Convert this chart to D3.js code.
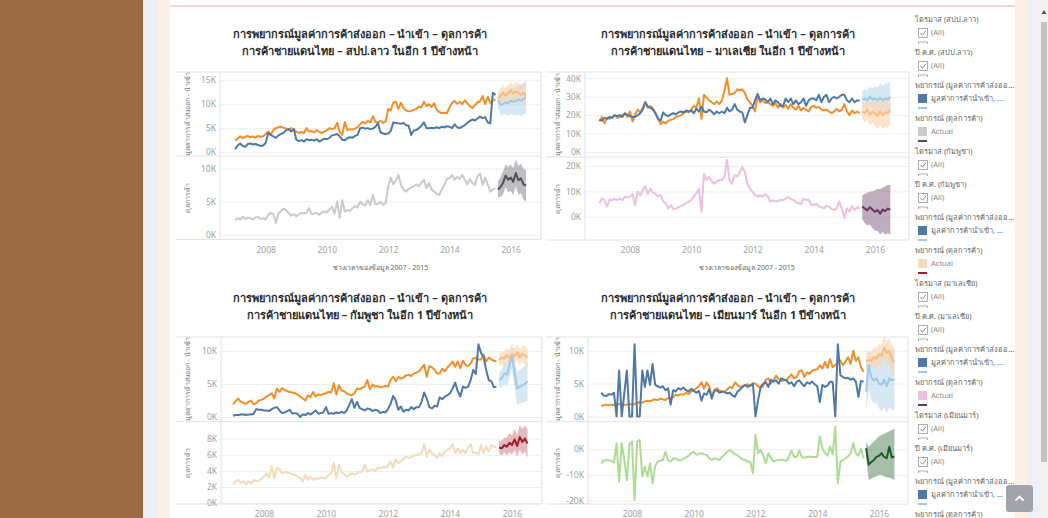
<!DOCTYPE html>
<html>
<head>
<meta charset="utf-8">
<script src="https://cdn.jsdelivr.net/npm/d3@7"></script>
<style>
  body { margin: 0; background: #fff; overflow: hidden; }
  svg { display: block; }
  text { font-family: "Noto Sans", "DejaVu Sans", "Open Sans", sans-serif; }
</style>
</head>
<body>
<script>
// monthly values in thousands, Jan 2007 .. Jul 2015 (103 months)
var laoExport = [2.4,2.8,3.3,2.9,3.2,3.4,3.1,3.3,3.0,3.4,3.2,3.3,
  3.8,4.3,3.6,4.6,5.0,5.2,5.3,5.1,4.9,4.6,5.0,4.8,
  4.3,4.0,4.2,4.0,5.0,4.3,4.4,4.1,4.6,4.2,4.0,4.3,
  4.6,5.0,4.8,5.0,6.1,4.2,3.6,6.3,4.6,4.8,4.7,4.9,
  5.2,5.8,6.3,6.0,6.5,6.2,7.5,6.3,6.2,6.5,6.1,6.4,
  9.0,8.7,10.3,10.5,9.0,10.3,9.2,8.7,8.5,8.6,8.8,9.0,
  9.5,9.3,10.5,9.6,10.0,9.4,10.2,8.8,8.4,8.1,8.2,8.1,
  9.3,10.2,10.7,10.1,10.5,10.0,10.8,10.2,9.6,9.2,9.8,10.4,
  10.6,11.7,10.0,11.5,10.2,11.0,10.8];
var laoImport = [0.6,1.4,1.8,1.3,1.1,1.7,1.8,1.6,1.7,1.5,1.3,1.4,
  1.9,4.0,3.6,3.3,3.0,3.5,3.8,4.0,4.6,4.8,4.3,4.8,
  2.6,2.3,2.5,2.2,2.7,2.5,2.6,2.4,2.7,2.2,2.5,2.8,
  2.7,3.0,3.5,3.6,3.8,3.3,2.6,2.5,2.9,3.1,3.0,3.4,
  3.6,5.0,5.1,4.9,5.0,4.8,4.9,5.3,6.0,4.1,3.9,3.8,
  3.9,4.4,6.2,6.1,6.0,5.9,6.1,5.6,5.5,3.6,4.5,4.6,
  5.0,5.5,6.2,5.0,5.0,5.1,5.0,5.2,5.0,5.3,5.2,5.4,
  5.3,5.0,5.8,5.2,5.0,5.3,5.6,6.1,6.5,6.8,6.6,7.0,
  7.4,7.1,7.3,6.2,6.0,12.4,11.9];
var laoBalance = [2.2,2.5,2.3,2.7,2.4,2.6,2.5,2.3,2.6,2.7,2.4,2.5,
  2.3,3.0,3.3,3.1,1.8,3.2,3.6,3.9,3.7,3.3,2.9,3.1,
  2.8,3.1,3.3,3.2,3.3,4.0,3.1,3.2,3.3,3.0,3.4,3.5,
  3.4,3.8,4.2,3.2,5.0,2.6,5.2,3.5,3.7,3.6,4.0,4.3,
  4.1,5.0,4.6,4.4,5.2,4.5,6.0,4.6,4.7,4.9,4.5,4.8,
  7.3,8.6,7.6,8.2,9.0,7.5,6.8,6.5,6.9,7.1,7.3,7.6,
  7.3,7.8,8.3,7.0,7.8,6.8,6.5,6.2,6.0,6.8,7.5,8.4,
  8.5,9.0,8.3,8.7,8.4,9.0,8.3,7.6,8.4,7.8,7.5,8.8,
  9.2,7.5,8.6,7.6,6.5,6.8,7.0];
// forecast, Aug 2015 .. Jul 2016
var laoExportFc = [11.2,11.8,12.4,11.8,12.3,12.9,12.2,12.6,12.4,11.9,12.3,11.8];
var laoExportHi = [12.6,13.3,13.9,13.4,14.0,14.6,14.0,14.5,14.4,14.0,14.5,14.2];
var laoExportLo = [9.8,10.3,10.9,10.2,10.6,11.2,10.4,10.7,10.4,9.8,10.1,9.4];
var laoImportFc = [10.8,9.8,10.0,10.4,10.2,10.7,10.5,10.6,11.0,10.7,11.1,11.5];
var laoImportHi = [12.5,11.8,12.2,12.8,12.8,13.4,13.3,13.6,14.1,13.9,14.4,14.9];
var laoImportLo = [9.1,7.8,7.8,8.0,7.6,8.0,7.7,7.6,7.9,7.5,7.8,8.1];
var laoBalanceFc = [6.8,7.2,7.8,8.9,8.3,8.6,8.0,9.3,8.2,8.5,7.6,7.4];
var laoBalanceHi = [8.0,8.7,9.5,10.6,10.2,10.6,10.0,11.3,10.4,10.7,9.9,9.8];
var laoBalanceLo = [5.6,5.7,6.1,7.2,6.4,6.6,6.0,7.3,6.0,6.3,5.3,5.0];

var myExport = [16.5,19,15.5,18.5,18,19,20,18.5,19,20,21,19,
  22,16.5,20.5,23,21.5,24,27,24,25,23.5,21,18,
  15,16.5,15.5,17,17.5,18,19,19.5,20,21,22,21.5,
  23,25,24,29,18,31,29.5,28,27,26,27.5,26,
  28,33,40,31,31.5,32,34,33.5,34,32,28.5,27,
  25,22,30.5,27,28,26.5,27,26,25,26.5,24,26,
  24,25.5,23.5,26,24,23,25,22.5,24,23,22,24.5,
  25,24,24.5,23,22.5,23,22,21,22,23.5,22,23,
  26,22,20,22.5,21,22,21];
var myImport = [17.5,17.0,18.5,18.0,19.0,18.5,20.0,19.5,20.0,19.0,21.0,20.0,
  19.5,19.0,19.0,20.0,21.0,23.0,27.0,24.5,24.0,23.0,21.0,18.0,
  17.0,21.5,20.0,19.5,20.5,21.0,20.5,21.5,22.0,21.5,22.5,22.0,
  22.5,21.0,23.5,22.0,24.5,22.0,21.5,23.0,22.0,20.5,22.0,21.0,
  22.0,21.0,24.0,22.0,23.0,26.0,23.0,22.0,21.5,16.0,20.0,24.0,
  24.0,28.0,31.5,28.0,29.0,28.5,27.0,29.0,26.0,28.0,27.0,25.0,
  25.0,29.0,27.0,29.0,26.0,28.0,26.0,27.0,29.0,25.0,28.0,29.0,
  29.0,28.0,31.0,27.0,30.0,31.0,27.0,29.0,30.0,29.0,30.0,31.0,
  31.0,28.0,27.0,29.0,27.0,28.0,28.0];
var myBalance = [5.3,7.2,6.6,4.0,6.8,6.5,7.0,6.6,7.2,6.5,8.0,7.5,
  8.0,9.0,4.5,10.0,8.5,10.5,12.0,9.0,11.0,9.5,9.0,8.0,
  8.5,6.0,5.3,3.3,4.6,2.9,3.2,3.7,4.2,4.6,5.5,6.0,
  6.6,8.0,9.2,11.0,2.0,17.0,14.5,15.8,14.0,13.0,14.0,14.5,
  14.5,15.8,22.4,14.5,13.0,16.5,15.8,17.5,19.7,17.8,13.0,11.0,
  9.9,8.5,7.9,8.5,7.9,9.0,8.0,6.0,6.5,6.0,6.2,6.6,
  6.6,7.2,7.9,7.0,6.6,5.8,5.3,5.0,7.2,6.6,6.8,4.6,
  4.6,5.2,4.0,3.8,3.3,4.2,4.0,3.0,2.6,3.4,6.0,3.0,
  -0.5,3.3,2.0,4.2,2.6,3.8,3.3];
var myExportFc = [22,21,23,20,22,21,19.5,22,20,21.5,21,23];
var myExportHi = [26,26,28.5,26,28,27.5,26.5,29,27.5,29,29,31];
var myExportLo = [18,16,17.5,14,16,14.5,12.5,15,12.5,14,13,15];
var myImportFc = [28.5,29,28,30,28.5,29,28,29.5,28,29,28.5,30];
var myImportHi = [33,34,33.5,35.5,34.5,35.5,35,37,36,37,37,38.5];
var myImportLo = [24,24,22.5,24.5,22.5,22.5,21,22,20,21,20,21.5];
var myBalanceFc = [4.0,3.2,2.5,3.8,2.8,2.0,2.6,1.2,2.8,2.2,3.2,2.8];
var myBalanceHi = [8.5,9,9.5,10,10,10.5,11,11,11.5,12,12.5,12.5];
var myBalanceLo = [-1.0,-2.5,-3.5,-3.0,-4.5,-5.5,-5.5,-7.0,-6.0,-7.0,-6.5,-7.0];

var khExport = [1.9,2.4,2.8,2.3,2.2,2.0,2.3,2.5,1.9,2.1,2.5,2.6,
  2.8,3.1,3.3,3.6,2.8,4.3,3.8,4.4,4.1,3.9,3.8,3.7,
  3.6,3.4,3.1,2.8,2.5,3.3,3.0,3.8,3.1,3.4,3.3,3.5,
  3.6,3.8,3.7,5.1,3.4,4.8,4.0,3.9,3.6,3.4,3.3,3.6,
  4.3,4.2,4.4,4.6,5.6,4.2,4.9,4.6,4.7,4.5,4.6,4.7,
  4.6,5.6,6.1,5.4,6.1,5.8,6.0,6.3,6.4,6.2,6.6,6.7,
  6.9,7.4,7.9,6.1,7.7,7.5,7.2,6.6,6.6,7.3,6.9,7.5,
  7.9,8.4,7.6,8.4,7.4,8.5,7.9,7.7,8.1,8.9,8.9,8.7,
  8.7,9.4,8.4,9.0,8.7,8.5,8.4];
var khImport = [0.2,0.3,0.3,0.4,0.4,0.3,0.4,0.4,0.5,1.2,1.1,1.1,
  1.0,1.0,0.9,1.2,1.4,1.5,1.0,0.6,0.7,0.9,1.1,0.5,
  0.6,0.5,0.0,0.4,0.3,0.6,0.4,0.7,1.0,0.5,0.6,0.7,
  1.5,0.5,0.6,0.5,0.7,0.6,0.8,0.6,1.0,1.8,2.7,1.4,
  2.3,1.4,1.2,1.0,1.3,1.2,0.9,1.1,1.0,0.6,0.8,0.7,
  1.2,2.0,3.2,2.5,1.1,1.6,0.8,1.1,1.0,1.5,1.2,1.5,
  1.5,2.3,3.7,2.8,1.5,1.3,1.7,1.6,3.0,2.7,3.1,3.3,
  3.6,4.3,5.2,3.9,3.1,4.6,4.4,4.6,5.6,7.1,6.5,11.0,
  9.7,9.1,7.1,5.6,5.4,4.5,4.6];
var khBalance = [2.3,2.7,2.9,2.5,2.7,2.3,2.7,2.4,2.9,2.7,2.8,3.0,
  3.3,3.7,3.1,4.6,3.1,4.4,4.2,3.7,3.9,3.8,3.7,3.6,
  3.5,3.3,3.1,2.7,3.5,2.9,3.3,2.9,3.1,3.0,3.2,3.1,
  3.1,3.5,3.7,5.0,3.1,4.8,3.9,3.6,3.3,3.5,3.7,3.6,
  3.7,3.9,3.9,4.8,3.9,4.1,4.2,4.0,4.4,4.3,4.5,4.4,
  4.6,5.2,4.4,5.4,5.0,5.2,5.5,5.8,5.6,5.7,5.9,6.0,
  6.0,6.2,7.3,5.8,6.6,6.2,6.0,5.6,6.2,5.8,6.4,6.6,
  6.8,7.3,6.2,6.8,6.2,6.6,6.2,6.9,7.3,6.2,6.3,6.0,
  7.2,6.2,7.0,6.4,7.2,7.0,6.9];
var khExportFc = [8.6,9.0,8.8,9.4,8.9,9.5,9.2,9.8,9.0,9.6,9.3,9.0];
var khExportHi = [9.6,10.0,9.9,10.5,10.1,10.6,10.4,11.0,10.3,10.9,10.7,10.4];
var khExportLo = [7.6,8.0,7.7,8.3,7.7,8.4,8.0,8.6,7.7,8.3,7.9,7.6];
var khImportFc = [5.6,5.8,6.6,6.4,7.8,9.3,6.6,4.3,4.6,4.8,5.0,5.4];
var khImportHi = [6.6,7.2,8.2,8.2,9.8,11.3,8.8,6.7,7.1,7.4,7.7,8.3];
var khImportLo = [4.6,4.4,5.0,4.6,5.8,7.3,4.4,1.9,2.1,2.2,2.3,2.5];
var khBalanceFc = [6.9,6.8,7.2,7.0,7.5,7.2,7.9,7.1,8.2,7.6,8.0,7.4];
var khBalanceHi = [7.6,7.7,8.1,8.1,8.7,8.4,9.2,8.5,9.7,9.2,9.6,9.2];
var khBalanceLo = [6.2,5.9,6.3,5.9,6.3,6.0,6.6,5.7,6.7,6.0,6.4,5.6];

var mmExport = [1.6,1.7,1.8,1.7,1.8,1.7,1.8,1.9,1.7,1.8,1.8,1.9,
  1.8,1.9,2.0,2.2,2.1,2.3,2.4,2.3,2.5,2.6,2.5,2.7,
  2.6,2.5,2.8,2.7,2.9,3.3,3.2,3.4,3.3,3.6,3.4,3.8,
  4.0,4.3,4.6,5.2,4.2,5.2,4.6,3.0,4.0,4.3,3.9,3.8,
  3.8,4.1,4.5,4.3,5.2,4.8,4.5,4.6,4.8,4.9,4.7,5.0,
  5.0,4.6,4.4,4.6,5.6,5.8,5.0,5.5,6.2,5.7,5.4,5.5,
  5.5,6.0,6.4,5.8,6.0,6.9,7.0,6.0,6.7,6.5,7.0,7.1,
  7.2,7.8,7.3,8.3,7.4,8.7,7.5,7.8,8.3,8.5,7.8,8.4,
  9.0,8.0,10.0,8.5,9.0,7.5,6.8];
var mmImport = [3.6,3.2,3.1,3.4,3.3,3.6,0.0,7.0,0.0,3.5,7.0,0.0,
  0.0,11.0,0.0,0.0,7.0,4.5,7.0,4.8,8.0,4.8,4.6,4.4,
  4.6,4.0,4.3,1.8,4.0,3.8,4.3,4.1,4.4,4.0,3.8,4.2,
  3.9,3.6,3.9,2.4,3.5,3.3,4.2,2.7,3.9,4.0,3.6,3.8,
  3.7,3.5,3.6,3.2,3.0,3.8,4.1,4.5,4.8,4.5,4.7,5.0,
  0.0,2.5,4.5,5.0,5.2,4.5,5.6,5.3,5.5,5.0,5.8,5.6,
  5.5,5.0,5.2,4.6,5.3,5.5,5.0,4.6,5.2,5.0,5.3,4.9,
  4.6,2.2,4.8,4.5,4.7,5.3,5.2,0.0,11.0,6.3,6.0,5.8,
  5.9,5.6,5.8,5.3,3.0,5.4,5.3];
var mmBalance = [-5.5,-4.5,-4.2,-4.3,-4.6,-5.2,2.3,-12.6,2.3,-4.0,-12.0,2.0,
  3.0,-19.7,3.0,3.6,-10.6,-6.8,-10.6,-5.5,-13.2,-6.5,-4.8,-4.5,
  -4.2,-1.0,-4.2,-4.8,-3.7,-3.5,-4.3,-4.3,-3.7,-3.2,-2.5,-1.5,
  -1.0,-2.2,-1.8,-1.6,-2.0,-2.2,-3.5,-4.2,-3.6,-3.8,-4.2,-3.0,
  -2.0,-1.0,-0.3,-1.0,-2.0,-2.3,-3.2,-4.0,-4.2,-4.8,-5.0,-9.4,
  5.6,-1.5,-0.3,-2.5,-5.5,-1.6,-3.5,-4.8,-4.3,-4.2,-4.0,-4.3,
  -4.5,-3.0,-0.5,-3.0,-3.0,-0.5,-3.0,-3.3,-3.0,-2.8,-3.0,-3.0,
  -3.0,5.0,0.3,-1.5,-2.5,1.0,-2.0,8.8,-13.2,-4.8,-4.2,-3.5,
  -2.8,-1.5,2.3,-1.6,-2.5,0.3,-3.5];
var mmExportFc = [8.4,8.6,8.5,9.0,8.8,9.5,9.2,10.5,9.6,10.0,8.8,8.2];
var mmExportHi = [9.6,9.9,9.9,10.5,10.4,11.2,11.0,12.3,11.5,12.0,10.9,10.4];
var mmExportLo = [7.2,7.3,7.1,7.5,7.2,7.8,7.4,8.7,7.7,8.0,6.7,6.0];
var mmImportFc = [3.8,7.8,6.0,5.5,5.8,5.0,4.8,5.6,4.6,5.8,5.5,5.7];
var mmImportHi = [8.0,10.0,9.2,9.0,9.5,9.0,9.0,9.8,9.0,10.2,10.0,10.3];
var mmImportLo = [0.5,4.0,2.6,2.0,2.0,1.2,0.8,1.4,0.5,1.4,1.0,1.0];
var mmBalanceFc = [0.4,-6.0,-5.0,-4.2,-3.0,-2.6,-1.5,-3.0,-3.5,1.0,-3.2,-2.8];
var mmBalanceHi = [3,1,2,3,4,5,5.5,6,6.5,7,7.5,8];
var mmBalanceLo = [-3,-12,-11.5,-11,-10.5,-10,-10,-10.5,-11,-11,-11.5,-12];

var yearTicks = [2008, 2010, 2012, 2014, 2016];
var titleLine1 = "การพยากรณ์มูลค่าการค้าส่งออก – นำเข้า – ดุลการค้า";
var countries = ["สปป.ลาว", "มาเลเซีย", "กัมพูชา", "เมียนมาร์"];
var legendCountries = ["สปป.ลาว", "กัมพูชา", "มาเลเซีย", "เมียนมาร์"];

var W = 1048, H = 518;
var svg = d3.select("body").append("svg").attr("width", W).attr("height", H);

// page background strips
svg.append("rect").attr("x", 0).attr("y", 0).attr("width", 143).attr("height", H).attr("fill", "#9b6a43");
svg.append("rect").attr("x", 143).attr("y", 0).attr("width", 15).attr("height", H).attr("fill", "#eceff4");
svg.append("rect").attr("x", 158).attr("y", 0).attr("width", 12).attr("height", H).attr("fill", "#fcf0e6");
svg.append("rect").attr("x", 1015).attr("y", 0).attr("width", 12).attr("height", H).attr("fill", "#fcf0e6");
svg.append("rect").attr("x", 1027).attr("y", 0).attr("width", 13).attr("height", H).attr("fill", "#eef0f5");
svg.append("rect").attr("x", 1040).attr("y", 0).attr("width", 8).attr("height", H).attr("fill", "#f1f1f1");
svg.append("rect").attr("x", 1041).attr("y", 22).attr("width", 6).attr("height", 440).attr("fill", "#c4c4c4");
svg.append("path").attr("d", "M1041.5,14 L1044,10 L1046.5,14 Z").attr("fill", "#555");
svg.append("line").attr("x1", 170).attr("x2", 1015).attr("y1", 6).attr("y2", 6)
  .attr("stroke", "#e7a7a7").attr("stroke-width", 1.2);

var monthX = function(i) { return 2007 + i / 12; };

var panels = [
  { country: countries[0], tx: 360, ty: 35, left: 176, ax: 220, right: 541, top: 72, mid: 156, bottom: 239.5,
    x8: 265.7, x16: 510.7, upDom: [-0.8, 16.7], upTicks: [0, 5, 10, 15], loDom: [-0.7, 11.85], loTicks: [0, 5, 10],
    xLab: 251, xTitle: 268, balColor: "#cacaca", balFcColor: "#4f4f58", balBand: "#7d7d85",
    exp: laoExport, imp: laoImport, bal: laoBalance,
    expFc: laoExportFc, expHi: laoExportHi, expLo: laoExportLo,
    impFc: laoImportFc, impHi: laoImportHi, impLo: laoImportLo,
    balFc: laoBalanceFc, balHi: laoBalanceHi, balLo: laoBalanceLo },
  { country: countries[1], tx: 728, ty: 35, left: 546, ax: 585, right: 909, top: 72, mid: 157, bottom: 240,
    x8: 630, x16: 875, upDom: [-2.7, 43.4], upTicks: [0, 10, 20, 30, 40], loDom: [-9.2, 23.6], loTicks: [0, 10, 20],
    xLab: 251, xTitle: 268, balColor: "#eec0df", balFcColor: "#6a3560", balBand: "#7f5a7b",
    exp: myExport, imp: myImport, bal: myBalance,
    expFc: myExportFc, expHi: myExportHi, expLo: myExportLo,
    impFc: myImportFc, impHi: myImportHi, impLo: myImportLo,
    balFc: myBalanceFc, balHi: myBalanceHi, balLo: myBalanceLo },
  { country: countries[2], tx: 360, ty: 299, left: 176, ax: 221, right: 542, top: 337, mid: 421.7, bottom: 504,
    x8: 264, x16: 512, upDom: [-0.7, 12.1], upTicks: [0, 5, 10], loDom: [-0.1, 10.1], loTicks: [0, 2, 4, 6, 8],
    xLab: 515, xTitle: null, balColor: "#f2dcbb", balFcColor: "#9e1c30", balBand: "#c9737f",
    exp: khExport, imp: khImport, bal: khBalance,
    expFc: khExportFc, expHi: khExportHi, expLo: khExportLo,
    impFc: khImportFc, impHi: khImportHi, impLo: khImportLo,
    balFc: khBalanceFc, balHi: khBalanceHi, balLo: khBalanceLo },
  { country: countries[3], tx: 728, ty: 299, left: 546, ax: 588, right: 908, top: 337, mid: 421.7, bottom: 504,
    x8: 632, x16: 879, upDom: [-0.8, 12.1], upTicks: [0, 5, 10], loDom: [-21.3, 10.7], loTicks: [-20, -10, 0],
    xLab: 515, xTitle: null, balColor: "#acdc96", balFcColor: "#1d5b2a", balBand: "#4f7f55",
    exp: mmExport, imp: mmImport, bal: mmBalance,
    expFc: mmExportFc, expHi: mmExportHi, expLo: mmExportLo,
    impFc: mmImportFc, impHi: mmImportHi, impLo: mmImportLo,
    balFc: mmBalanceFc, balHi: mmBalanceHi, balLo: mmBalanceLo }
];

var fmtK = function(d) { return d + "K"; };

panels.forEach(function(p, pi) {
  var g = svg.append("g");
  var x = d3.scaleLinear().domain([2008, 2016]).range([p.x8, p.x16]);
  var yU = d3.scaleLinear().domain(p.upDom).range([p.mid, p.top]);
  var yL = d3.scaleLinear().domain(p.loDom).range([p.bottom, p.mid]);

  // titles
  g.append("text").attr("x", p.tx).attr("y", p.ty).attr("text-anchor", "middle").attr("dominant-baseline", "middle")
    .attr("font-size", 11).attr("font-weight", "bold").attr("fill", "#2b2b2b").text(titleLine1);
  g.append("text").attr("x", p.tx).attr("y", p.ty + 17).attr("text-anchor", "middle").attr("dominant-baseline", "middle")
    .attr("font-size", 11).attr("font-weight", "bold").attr("fill", "#2b2b2b")
    .text("การค้าชายแดนไทย – " + p.country + " ในอีก 1 ปีข้างหน้า");

  // gridlines
  [[yU, p.upTicks], [yL, p.loTicks]].forEach(function(s) {
    g.append("g").attr("transform", "translate(" + p.ax + ",0)")
      .call(d3.axisLeft(s[0]).tickValues(s[1]).tickSize(-(p.right - p.ax)).tickFormat(""))
      .call(function(a) { a.select(".domain").remove(); a.selectAll("line").attr("stroke", "#efefef"); });
  });

  // frame
  var fr = g.append("g").attr("stroke", "#e2e2e2").attr("fill", "none");
  [p.top, p.mid, p.bottom].forEach(function(yy) {
    fr.append("line").attr("x1", p.left).attr("x2", p.right).attr("y1", yy).attr("y2", yy);
  });
  fr.append("line").attr("x1", p.ax).attr("x2", p.ax).attr("y1", p.top).attr("y2", p.bottom);
  fr.append("line").attr("x1", p.right).attr("x2", p.right).attr("y1", p.top).attr("y2", p.bottom);

  // tick labels
  [[yU, p.upTicks], [yL, p.loTicks]].forEach(function(s) {
    g.append("g").attr("transform", "translate(" + (p.ax - 4) + ",0)")
      .call(d3.axisLeft(s[0]).tickValues(s[1]).tickSize(0).tickPadding(0).tickFormat(fmtK))
      .call(function(a) {
        a.select(".domain").remove();
        a.selectAll("text").attr("fill", "#a0a0a0").attr("font-size", 8.5)
          .attr("font-family", '"Noto Sans", "DejaVu Sans", sans-serif');
      });
  });

  // axis titles
  g.append("text").attr("transform", "translate(" + (p.left + 14) + "," + ((p.top + p.mid) / 2) + ") rotate(-90)")
    .attr("text-anchor", "middle").attr("font-size", 7).attr("fill", "#777").text("มูลค่าการค้าส่งออก - นำเข้า");
  g.append("text").attr("transform", "translate(" + (p.left + 14) + "," + ((p.mid + p.bottom) / 2) + ") rotate(-90)")
    .attr("text-anchor", "middle").attr("font-size", 7).attr("fill", "#777").text("ดุลการค้า");

  // x axis labels
  g.append("g").attr("transform", "translate(0," + (p.xLab - 4) + ")")
    .call(d3.axisBottom(x).tickValues(yearTicks).tickSize(0).tickPadding(0).tickFormat(d3.format("d")))
    .call(function(a) {
      a.select(".domain").remove();
      a.selectAll("text").attr("fill", "#a0a0a0").attr("font-size", 8.5)
        .attr("font-family", '"Noto Sans", "DejaVu Sans", sans-serif');
    });
  if (p.xTitle) {
    g.append("text").attr("x", (p.ax + p.right) / 2).attr("y", p.xTitle).attr("text-anchor", "middle")
      .attr("dominant-baseline", "middle").attr("font-size", 7).attr("fill", "#666")
      .text("ช่วงเวลาของข้อมูล 2007 - 2015");
  }

  // clip
  var cid = "clip" + pi;
  svg.append("clipPath").attr("id", cid).append("rect")
    .attr("x", p.ax).attr("y", p.top).attr("width", p.right - p.ax).attr("height", p.bottom - p.top);
  var plot = g.append("g").attr("clip-path", "url(#" + cid + ")");

  var act = function(y) {
    return d3.line().x(function(d, i) { return x(monthX(i)); }).y(function(d) { return y(d); });
  };
  var fcl = function(y) {
    return d3.line().x(function(d, i) { return x(monthX(103 + i)); }).y(function(d) { return y(d); });
  };
  var band = function(y, lo, hi) {
    return d3.area().x(function(d, i) { return x(monthX(103 + i)); })
      .y0(function(d, i) { return y(lo[i]); }).y1(function(d, i) { return y(hi[i]); });
  };

  // forecast bands
  plot.append("path").datum(p.impHi).attr("d", band(yU, p.impLo, p.impHi)).attr("fill", "#bcd8ee").attr("fill-opacity", 0.6);
  plot.append("path").datum(p.expHi).attr("d", band(yU, p.expLo, p.expHi)).attr("fill", "#fbd3ab").attr("fill-opacity", 0.6);
  plot.append("path").datum(p.balHi).attr("d", band(yL, p.balLo, p.balHi)).attr("fill", p.balBand).attr("fill-opacity", 0.5);

  // actual lines
  plot.append("path").datum(p.exp).attr("d", act(yU)).attr("fill", "none").attr("stroke", "#f28e2b")
    .attr("stroke-width", 2).attr("stroke-linejoin", "round");
  plot.append("path").datum(p.imp).attr("d", act(yU)).attr("fill", "none").attr("stroke", "#4e79a7")
    .attr("stroke-width", 2).attr("stroke-linejoin", "round");
  plot.append("path").datum(p.bal).attr("d", act(yL)).attr("fill", "none").attr("stroke", p.balColor)
    .attr("stroke-width", 2).attr("stroke-linejoin", "round");

  // forecast lines
  plot.append("path").datum(p.impFc).attr("d", fcl(yU)).attr("fill", "none").attr("stroke", "#9fc8e6")
    .attr("stroke-width", 2).attr("stroke-linejoin", "round");
  plot.append("path").datum(p.expFc).attr("d", fcl(yU)).attr("fill", "none").attr("stroke", "#f9bb7f")
    .attr("stroke-width", 2).attr("stroke-linejoin", "round");
  plot.append("path").datum(p.balFc).attr("d", fcl(yL)).attr("fill", "none").attr("stroke", p.balFcColor)
    .attr("stroke-width", 2).attr("stroke-linejoin", "round");
});

// legend column
var legendSwatch = { "สปป.ลาว": ["#cacaca", "#4f4f58"], "กัมพูชา": ["#f2dcbb", "#9e1c30"],
  "มาเลเซีย": ["#eec0df", "#6a3560"], "เมียนมาร์": ["#acdc96", "#1d5b2a"] };
var lg = svg.append("g");
var step = 33.0;
legendCountries.forEach(function(c, ci) {
  var headers = ["ไตรมาส (" + c + ")", "ปี ค.ศ. (" + c + ")", "พยากรณ์ (มูลค่าการค้าส่งออ...", "พยากรณ์ (ดุลการค้า)"];
  headers.forEach(function(h, hi) {
    var y0 = 20 + step * (ci * 4 + hi);
    lg.append("text").attr("x", 915).attr("y", y0).attr("dominant-baseline", "middle")
      .attr("font-size", 7.5).attr("fill", "#666").text(h);
    if (y0 + 8 > H) return;
    if (hi < 2) {
      lg.append("rect").attr("x", 918.5).attr("y", y0 + 8.5).attr("width", 9).attr("height", 9)
        .attr("fill", "#fff").attr("stroke", "#9a9a9a").attr("stroke-width", 0.8);
      lg.append("path").attr("d", "M920.5," + (y0 + 13) + " l2,2.2 l3.5,-4.5")
        .attr("fill", "none").attr("stroke", "#777").attr("stroke-width", 0.9);
      lg.append("text").attr("x", 931).attr("y", y0 + 13).attr("dominant-baseline", "middle")
        .attr("font-size", 7.5).attr("fill", "#888").text("(All)");
      lg.append("path").attr("d", "M918.5," + (y0 + 24) + " v-2 h9 v2")
        .attr("fill", "none").attr("stroke", "#9a9a9a").attr("stroke-width", 0.8);
    } else if (hi === 2) {
      lg.append("rect").attr("x", 918).attr("y", y0 + 8).attr("width", 9).attr("height", 9).attr("fill", "#4e79a7");
      lg.append("text").attr("x", 931).attr("y", y0 + 13).attr("dominant-baseline", "middle")
        .attr("font-size", 7.5).attr("fill", "#666").text("มูลค่าการค้านำเข้า, ...");
      lg.append("line").attr("x1", 918).attr("x2", 927).attr("y1", y0 + 22).attr("y2", y0 + 22)
        .attr("stroke", "#9fc8e6").attr("stroke-width", 2);
    } else {
      lg.append("rect").attr("x", 918).attr("y", y0 + 8).attr("width", 9).attr("height", 9).attr("fill", legendSwatch[c][0]);
      lg.append("text").attr("x", 931).attr("y", y0 + 13).attr("dominant-baseline", "middle")
        .attr("font-size", 7.5).attr("fill", "#888").text("Actual");
      lg.append("line").attr("x1", 918).attr("x2", 927).attr("y1", y0 + 22).attr("y2", y0 + 22)
        .attr("stroke", legendSwatch[c][1]).attr("stroke-width", 2);
    }
  });
});

// scroll-to-top button
svg.append("rect").attr("x", 1006).attr("y", 485).attr("width", 27).attr("height", 27).attr("rx", 3)
  .attr("fill", "#a2a2aa");
svg.append("path").attr("d", "M1015.5,500.5 L1019.5,496.5 L1023.5,500.5").attr("fill", "none")
  .attr("stroke", "#fff").attr("stroke-width", 1.8);
</script>
</body>
</html>
